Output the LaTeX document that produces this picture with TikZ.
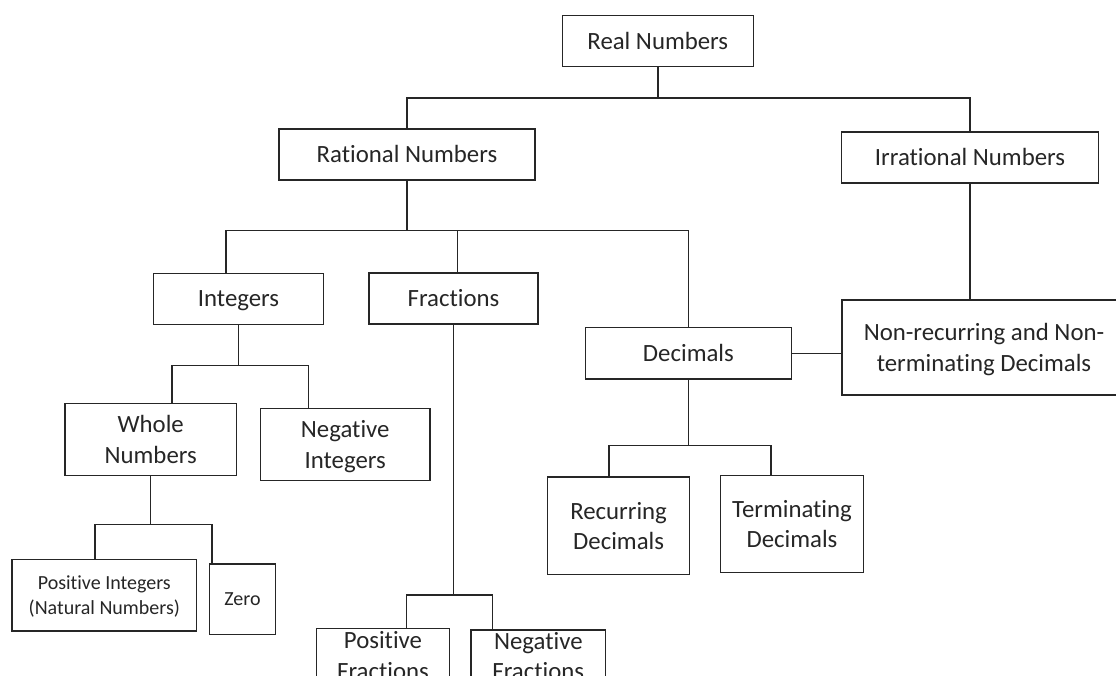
\documentclass[tikz,border=0pt]{standalone}
\usepackage{fontspec}
\setmainfont{Carlito}[RawFeature={-liga}]
\definecolor{ink}{HTML}{262626}
\tikzset{
  box/.style={draw=ink, text=ink, line width=1.5pt, inner sep=0pt, align=center,
    font=\fontsize{24.8}{30.5}\selectfont, text depth=0pt},
  onebox/.style={box, text height=16pt},
  smallbox/.style={box, font=\fontsize{20}{24.5}\selectfont},
  link/.style={draw=ink, line width=1.5pt}
}
\begin{document}
\begin{tikzpicture}[x=1pt,y=-1pt]
\useasboundingbox (0,0) rectangle (1116,676);
\fill[white] (0,0) rectangle (1116,676);
\clip (0,0) rectangle (1116,676);

% nodes
\node[onebox, minimum width=191pt, minimum height=51pt] (real) at (657.8,41.2) {Real Numbers};
\node[onebox, minimum width=256pt, minimum height=51pt] (rational) at (407,154.5) {Rational Numbers};
\node[onebox, minimum width=257pt, minimum height=51pt] (irrational) at (970,157.5) {Irrational Numbers};
\node[onebox, minimum width=169.6pt, minimum height=51pt] (integers) at (238.5,298.8) {Integers};
\node[onebox, minimum width=169pt, minimum height=51pt] (fractions) at (453.5,298.5) {Fractions};
\node[onebox, minimum width=206pt, minimum height=51.3pt] (decimals) at (688.4,353.3) {Decimals};
\node[box, minimum width=284pt, minimum height=95pt] (nonrec) at (984,347.5) {Non-recurring and Non-\\terminating Decimals};
\node[box, minimum width=171.3pt, minimum height=72.4pt] (whole) at (150.7,439.5) {Whole\\Numbers};
\node[box, minimum width=169.7pt, minimum height=72.4pt] (negint) at (345.2,444.5) {Negative\\Integers};
\node[smallbox, minimum width=184.7pt, minimum height=71.7pt] (posint) at (104.3,595.2) {Positive Integers\\(Natural Numbers)};
\node[smallbox, minimum width=66.4pt, minimum height=70.3pt] (zero) at (242.5,599.2) {Zero};
\node[box, minimum width=141.8pt, minimum height=97.7pt] (recur) at (618.6,525.8) {Recurring\\Decimals};
\node[box, minimum width=143.3pt, minimum height=97.4pt] (termin) at (792,524) {Terminating\\Decimals};
\node[box, minimum width=132.6pt, minimum height=54.8pt] (posfrac) at (383,655.7) {Positive\\Fractions};
\node[box, minimum width=134.7pt, minimum height=52pt] (negfrac) at (538.3,656) {Negative\\Fractions};

% junction coordinates
\coordinate (b1) at (657.8,98);
\coordinate (b2) at (407,230.7);
\coordinate (i2) at (226,230.7);
\coordinate (f2) at (457.4,230.7);
\coordinate (w3) at (172,365.7);
\coordinate (n3) at (308.3,365.7);
\coordinate (p4) at (95,524.3);
\coordinate (z4) at (212,524.3);
\coordinate (pf) at (406.7,595);
\coordinate (nf) at (492.3,595);
\coordinate (r6) at (609,445.7);
\coordinate (t6) at (771.2,445.7);

% connectors
\draw[link] (real.south) -- (b1);
\draw[link] (rational.north) |- (irrational.north |- b1) -- (irrational.north);

\draw[link] (rational.south) -- (b2);
\draw[link] (i2 |- integers.north) -- (i2) -- (decimals.north |- i2) -- (decimals.north);
\draw[link] (f2) -- (f2 |- fractions.north);

\draw[link] (irrational.south) -- (irrational.south |- nonrec.north);
\draw[link] (decimals.east) -- (decimals.east -| nonrec.west);

\draw[link] (integers.south) -- (integers.south |- w3);
\draw[link] (w3 |- whole.north) -- (w3) -- (n3) -- (n3 |- negint.north);

\draw[link] (whole.south) -- (whole.south |- p4);
\draw[link] (p4 |- posint.north) -- (p4) -- (z4) -- (z4 |- zero.north);

\draw[link] (fractions.south) -- (fractions.south |- pf);
\draw[link] (pf |- posfrac.north) -- (pf) -- (nf) -- (nf |- negfrac.north);

\draw[link] (decimals.south) -- (decimals.south |- r6);
\draw[link] (r6 |- recur.north) -- (r6) -- (t6) -- (t6 |- termin.north);
\end{tikzpicture}
\end{document}
